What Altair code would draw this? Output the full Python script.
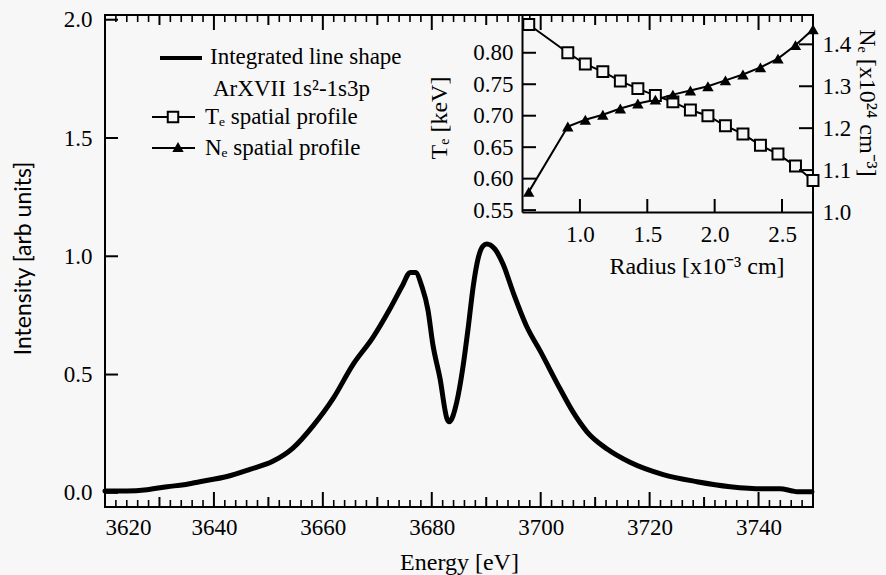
import altair as alt
import pandas as pd

# ---------------- data ----------------
energy = [3620.0, 3624.0, 3627.7, 3631.4, 3634.5, 3637.4, 3642.4, 3646.6, 3650.8, 3654.5,
          3658.2, 3661.9, 3665.5, 3669.2, 3672.3, 3674.7, 3676.0, 3677.0, 3678.2, 3679.3,
          3680.2, 3681.5, 3682.8, 3683.2, 3684.6, 3685.7, 3686.7, 3687.6, 3688.5, 3689.4,
          3690.1, 3691.6, 3693.1, 3694.9, 3697.5, 3699.9, 3703.5, 3705.9, 3708.5, 3712.2,
          3716.4, 3722.5, 3728.7, 3734.8, 3740.8, 3743.9, 3746.0, 3747.1, 3749.8]
intensity = [0.008, 0.008, 0.013, 0.026, 0.034, 0.047, 0.069, 0.099, 0.133, 0.189,
             0.283, 0.399, 0.541, 0.657, 0.777, 0.880, 0.931, 0.931, 0.871, 0.773,
             0.627, 0.485, 0.313, 0.300, 0.385, 0.528, 0.700, 0.871, 0.990, 1.043,
             1.052, 1.030, 0.966, 0.850, 0.700, 0.600, 0.442, 0.343, 0.258, 0.185,
             0.129, 0.077, 0.047, 0.026, 0.017, 0.017, 0.009, 0.004, 0.004]

radius = [0.62, 0.91, 1.04, 1.17, 1.30, 1.43, 1.56, 1.69, 1.82, 1.95, 2.08, 2.21, 2.34, 2.47, 2.60, 2.73]
te_kev = [0.845, 0.800, 0.782, 0.770, 0.755, 0.743, 0.732, 0.722, 0.709, 0.700, 0.684, 0.671, 0.653, 0.639, 0.620, 0.597]
ne_e24 = [1.048, 1.204, 1.220, 1.232, 1.247, 1.259, 1.268, 1.280, 1.290, 1.300, 1.314, 1.328, 1.345, 1.366, 1.398, 1.436]

x_labels = [3620, 3640, 3660, 3680, 3700, 3720, 3740]
x_mid_ticks = [3630, 3650, 3670, 3690, 3710, 3730, 3750]
x_minor_ticks = [v for v in range(3622, 3750, 2) if v % 10 != 0]
y_labels = [0.0, 0.5, 1.0, 1.5, 2.0]
inset_x_labels = [1.0, 1.5, 2.0, 2.5]
inset_te_labels = [0.55, 0.60, 0.65, 0.70, 0.75, 0.80]
inset_ne_labels = [1.0, 1.1, 1.2, 1.3, 1.4]

legend_texts = ["Integrated line shape", "ArXVII 1s\u00b2-1s3p",
                "T\u2091 spatial profile", "N\u2091 spatial profile"]
title_x = "Energy [eV]"
title_y = "Intensity [arb units]"
title_rad = "Radius [x10\u207b\u00b3 cm]"
title_te = "T\u2091 [keV]"
title_ne = "N\u2091 [x10\u00b2\u2074 cm\u207b\u00b3]"

# ---------------- layout ----------------
W, H = 708, 492
IL, IB = 417, 197          # inset left edge / bottom edge (plot coords)
FONT = "Liberation Serif"
BG = "#f7f7f7"

xs_main = alt.Scale(domain=[3620, 3750], nice=False, zero=False)
ys_main = alt.Scale(domain=[-0.06, 2.02], nice=False, zero=False)
xs_in = alt.Scale(domain=[0.57, 2.73], range=[IL, W], nice=False, zero=False)
ys_te = alt.Scale(domain=[0.547, 0.86], range=[IB, 0], nice=False, zero=False)
ys_ne = alt.Scale(domain=[1.0, 1.47], range=[IB, 0], nice=False, zero=False)
PX_Y = alt.Scale(domain=[0, H], range=[0, H], nice=False, zero=False)   # pixel offsets for tick ends
PX_X = alt.Scale(domain=[0, W], range=[0, W], nice=False, zero=False)

one = alt.Data(values=[{"k": 0}])
layers = []

df_main = pd.DataFrame({"E": energy, "I": intensity})
df_in = pd.DataFrame({"r": radius, "te": te_kev, "ne": ne_e24})

curve = alt.Chart(df_main).mark_line(color="black", strokeWidth=5, strokeJoin="round", strokeCap="round",
                                     interpolate="monotone").encode(
    x=alt.X("E:Q", scale=xs_main, axis=alt.Axis(
        orient="bottom", values=x_labels, format="d", title=title_x, domain=False, ticks=False, tickSize=0,
        labelPadding=9, labelFontSize=23, titleFontSize=24, titleBaseline="middle", titleY=55)),
    y=alt.Y("I:Q", scale=ys_main, axis=alt.Axis(
        orient="left", values=y_labels, format=".1f", title=title_y, domain=False, ticks=False, tickSize=0,
        labelPadding=13, labelFontSize=23, titleFontSize=23, titleFont="Lato",
        titleBaseline="middle", titleX=-82, titleY=243)),
)
layers.append(curve)


def tick_base(src, vals, p0, p1):
    """Tick rows derived from an existing table: one row per tick value, two ends each."""
    arr = "[" + ",".join(str(v) for v in vals) + "]"
    return (alt.Chart(src)
            .transform_aggregate(cnt="count()")
            .transform_calculate(tv=arr)
            .transform_flatten(["tv"])
            .transform_calculate(a=str(p0), b=str(p1))
            .transform_fold(["a", "b"], as_=["end", "pix"]))


def xtick_lines(src, vals, scale, p0, p1, sw=2):
    return tick_base(src, vals, p0, p1).mark_line(color="black", strokeWidth=sw, strokeCap="butt").encode(
        x=alt.X("tv:Q", scale=scale, axis=None),
        y=alt.Y("pix:Q", scale=PX_Y, axis=None),
        detail="tv:N", order="end:N")


def ytick_lines(src, vals, scale, p0, p1, sw=2):
    return tick_base(src, vals, p0, p1).mark_line(color="black", strokeWidth=sw, strokeCap="butt").encode(
        y=alt.Y("tv:Q", scale=scale, axis=None),
        x=alt.X("pix:Q", scale=PX_X, axis=None),
        detail="tv:N", order="end:N")


# main inward ticks (bottom and top edges)
for vals, ln, sw in [(x_labels, 15, 2), (x_mid_ticks, 10, 2), (x_minor_ticks, 7, 1.6)]:
    layers.append(xtick_lines(df_main, vals, xs_main, H, H - ln, sw))
    layers.append(xtick_lines(df_main, vals, xs_main, 0, ln, sw))
layers.append(ytick_lines(df_main, y_labels, ys_main, 0, 13))

# inset
te_line = alt.Chart(df_in).mark_line(color="black", strokeWidth=2).encode(
    x=alt.X("r:Q", scale=xs_in, axis=alt.Axis(
        orient="bottom", offset=-(H - IB), values=inset_x_labels, format=".1f", title=None,
        domain=True, domainColor="black", domainWidth=2, ticks=False, tickSize=0,
        labelPadding=11, labelFontSize=23)),
    y=alt.Y("te:Q", scale=ys_te, axis=alt.Axis(
        orient="left", offset=-IL, values=inset_te_labels, format=".2f", title=None,
        domain=True, domainColor="black", domainWidth=2, ticks=False, tickSize=0,
        labelPadding=9, labelFontSize=23)),
)
te_pts = alt.Chart(df_in).mark_point(shape="square", size=120, filled=True, fill=BG,
                                     stroke="black", strokeWidth=2, opacity=1).encode(
    x=alt.X("r:Q", scale=xs_in, axis=None), y=alt.Y("te:Q", scale=ys_te, axis=None))
ne_line = alt.Chart(df_in).mark_line(color="black", strokeWidth=2).encode(
    x=alt.X("r:Q", scale=xs_in, axis=None),
    y=alt.Y("ne:Q", scale=ys_ne, axis=alt.Axis(
        orient="right", values=inset_ne_labels, format=".1f", title=None, domain=False,
        ticks=False, tickSize=0, labelPadding=9, labelFontSize=23)),
)
ne_pts = alt.Chart(df_in).mark_point(shape="triangle-up", size=130, filled=True, color="black", opacity=1).encode(
    x=alt.X("r:Q", scale=xs_in, axis=None), y=alt.Y("ne:Q", scale=ys_ne, axis=None))
layers += [te_line, ne_line, te_pts, ne_pts]

# inset inward ticks
layers.append(xtick_lines(df_in, inset_x_labels, xs_in, IB, IB - 13))
layers.append(ytick_lines(df_in, inset_te_labels, ys_te, IL, IL + 14))
layers.append(ytick_lines(df_in, inset_ne_labels[1:], ys_ne, W, W - 14))

# inset titles
layers.append(alt.Chart(one).mark_text(font=FONT, fontSize=24, align="center", baseline="middle", color="black").encode(
    x=alt.value(592), y=alt.value(252), text=alt.value(title_rad)))
layers.append(alt.Chart(one).mark_text(font=FONT, fontSize=24, align="center", baseline="middle", angle=270, color="black").encode(
    x=alt.value(335), y=alt.value(103), text=alt.value(title_te)))
layers.append(alt.Chart(one).mark_text(font=FONT, fontSize=24, align="center", baseline="middle", angle=90, color="black").encode(
    x=alt.value(762), y=alt.value(88), text=alt.value(title_ne)))

# legend
layers.append(alt.Chart(one).mark_rule(color="black", strokeWidth=4).encode(
    x=alt.value(55), x2=alt.value(97), y=alt.value(43)))
layers.append(alt.Chart(one).mark_rule(color="black", strokeWidth=2).encode(
    x=alt.value(47), x2=alt.value(90), y=alt.value(102)))
layers.append(alt.Chart(one).mark_point(shape="square", size=110, filled=True, fill=BG, stroke="black",
                                        strokeWidth=2, opacity=1).encode(x=alt.value(68), y=alt.value(102)))
layers.append(alt.Chart(one).mark_rule(color="black", strokeWidth=2).encode(
    x=alt.value(47), x2=alt.value(90), y=alt.value(133)))
layers.append(alt.Chart(one).mark_point(shape="triangle-up", size=130, filled=True, color="black",
                                        opacity=1).encode(x=alt.value(73), y=alt.value(132)))
for txt, xp, yp in zip(legend_texts, [105, 108, 100, 100], [42, 74, 102, 133]):
    layers.append(alt.Chart(one).mark_text(font=FONT, fontSize=23, align="left", baseline="middle", color="black").encode(
        x=alt.value(xp), y=alt.value(yp), text=alt.value(txt)))

chart = alt.layer(*layers).resolve_scale(x="independent", y="independent").properties(
    width=W, height=H,
    padding={"left": 105, "top": 15, "right": 73, "bottom": 68},
    autosize=alt.AutoSizeParams(type="none"),
    background=BG,
).configure_view(stroke="black", strokeWidth=2).configure_axis(
    grid=False, labelFont=FONT, titleFont=FONT, labelColor="black", titleColor="black",
    titleFontWeight="normal",
)

chart.save("out.html", embed_options={"renderer": "svg", "actions": False})
